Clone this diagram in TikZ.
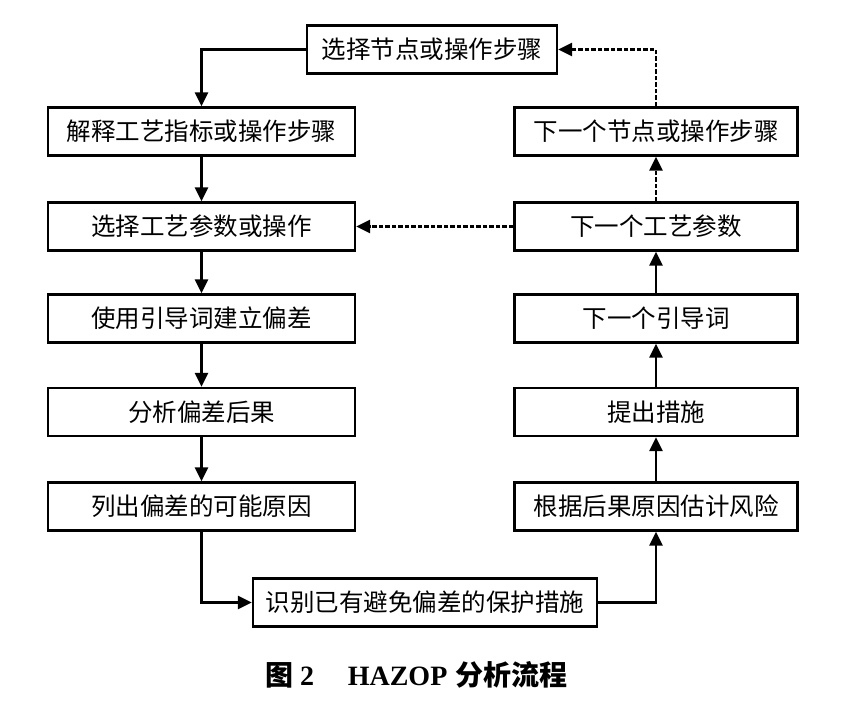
\documentclass[tikz,border=0pt]{standalone}
\usepackage{fontspec}
\setmainfont{Liberation Serif}
\newfontfamily\cjk{Noto Sans CJK SC}
\usetikzlibrary{arrows.meta}
\begin{document}
\begin{tikzpicture}[x=1pt,y=-1pt,
  box/.style={draw, line width=2.3pt, minimum height=48pt, inner sep=0pt,
    font=\cjk\fontsize{24.5}{24.5}\selectfont},
  lbox/.style={box, minimum width=307pt},
  rbox/.style={box, minimum width=283pt},
  conn/.style={line width=2.5pt, -{Triangle[length=14pt,width=13pt]}},
  dconn/.style={conn, dash pattern=on 4.5pt off 2pt}]
\useasboundingbox (0,0) rectangle (858,712);
\node[box, minimum width=250pt] (top) at (432,49.5) {选择节点或操作步骤};
\node[lbox] (L1) at (201.5,131.5) {解释工艺指标或操作步骤};
\node[lbox] (L2) at (201.5,226.5) {选择工艺参数或操作};
\node[lbox] (L3) at (201.5,318.5) {使用引导词建立偏差};
\node[lbox] (L4) at (201.5,412) {分析偏差后果};
\node[lbox] (L5) at (201.5,506.5) {列出偏差的可能原因};
\node[rbox] (R1) at (656,131.5) {下一个节点或操作步骤};
\node[rbox] (R2) at (656,226.5) {下一个工艺参数};
\node[rbox] (R3) at (656,318.5) {下一个引导词};
\node[rbox] (R4) at (656,412) {提出措施};
\node[rbox] (R5) at (656,506.5) {根据后果原因估计风险};
\node[box, minimum width=344pt] (B) at (425,602.5) {识别已有避免偏差的保护措施};
\node[anchor=west, inner sep=0pt, font=\fontsize{28}{28}\selectfont\bfseries] (cap) at (265,675)
  {{\cjk\bfseries 图}\hspace{0.25em}2\hspace{1.2em}HAZOP\hspace{0.3em}{\cjk\bfseries 分析流程}};
\draw[conn] (top.west) -| (L1.north);
\draw[conn] (L1.south) -- (L2.north);
\draw[conn] (L2.south) -- (L3.north);
\draw[conn] (L3.south) -- (L4.north);
\draw[conn] (L4.south) -- (L5.north);
\draw[conn] (L5.south) |- (B.west);
\draw[conn] (B.east) -| (R5.south);
\draw[conn] (R5.north) -- (R4.south);
\draw[conn] (R4.north) -- (R3.south);
\draw[conn] (R3.north) -- (R2.south);
\draw[dconn] (R2.north) -- (R1.south);
\draw[dconn] (R2.west) -- (L2.east);
\draw[dconn] (R1.north) |- (top.east);
\end{tikzpicture}
\end{document}
